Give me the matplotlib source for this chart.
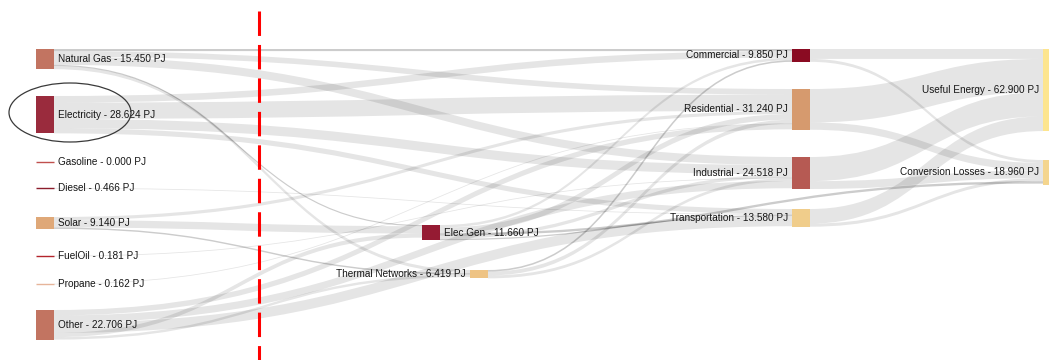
import matplotlib
matplotlib.use("Agg")
import matplotlib.pyplot as plt
from matplotlib.path import Path
from matplotlib.patches import PathPatch, Rectangle, Ellipse

# ---- data (PJ) ----
sources = ["Natural Gas", "Electricity", "Gasoline", "Diesel", "Solar",
           "FuelOil", "Propane", "Other"]
source_pj = [15.450, 28.624, 0.000, 0.466, 9.140, 0.181, 0.162, 22.706]

conversion = ["Elec Gen", "Thermal Networks"]
conversion_pj = [11.660, 6.419]

sectors = ["Commercial", "Residential", "Industrial", "Transportation"]
sector_pj = [9.850, 31.240, 24.518, 13.580]

outcomes = ["Useful Energy", "Conversion Losses"]
outcome_pj = [62.900, 18.960]

flow_from = [
    "Natural Gas", "Natural Gas", "Natural Gas", "Natural Gas", "Natural Gas",
    "Electricity", "Electricity", "Electricity", "Electricity",
    "Diesel",
    "Solar", "Solar", "Solar",
    "FuelOil",
    "Propane",
    "Other", "Other", "Other", "Other", "Other",
    "Elec Gen", "Elec Gen", "Elec Gen", "Elec Gen", "Elec Gen",
    "Thermal Networks", "Thermal Networks", "Thermal Networks",
    "Commercial", "Commercial",
    "Residential", "Residential",
    "Industrial", "Industrial",
    "Transportation", "Transportation",
]
flow_to = [
    "Commercial", "Residential", "Industrial", "Elec Gen", "Thermal Networks",
    "Commercial", "Residential", "Industrial", "Transportation",
    "Transportation",
    "Residential", "Elec Gen", "Thermal Networks",
    "Industrial",
    "Residential",
    "Residential", "Industrial", "Transportation", "Elec Gen", "Thermal Networks",
    "Commercial", "Residential", "Industrial", "Transportation", "Conversion Losses",
    "Commercial", "Residential", "Industrial",
    "Useful Energy", "Conversion Losses",
    "Useful Energy", "Conversion Losses",
    "Useful Energy", "Conversion Losses",
    "Useful Energy", "Conversion Losses",
]
flow_pj = [
    1.60, 4.30, 6.25, 0.90, 2.40,
    5.05, 12.50, 7.10, 3.974,
    0.466,
    2.44, 5.60, 1.10,
    0.181,
    0.162,
    4.20, 5.60, 7.80, 3.20, 1.906,
    2.00, 4.30, 2.60, 0.96, 1.80,
    1.20, 3.00, 2.219,
    7.60, 2.25,
    25.60, 5.64,
    18.50, 6.018,
    11.20, 2.38,
]

# ---- layout (pixels) ----
SCALE = 1.305          # px per PJ
NODE_W = 18
node_x, node_top = {}, {}
for name, top in zip(sources, [49, 96, 162, 188, 217, 256, 284, 310]):
    node_x[name], node_top[name] = 36, top
node_x["Elec Gen"], node_top["Elec Gen"] = 422, 225
node_x["Thermal Networks"], node_top["Thermal Networks"] = 470, 270
for name, top in zip(sectors, [49, 89, 157, 209]):
    node_x[name], node_top[name] = 792, top
for name, top in zip(outcomes, [49, 160]):
    node_x[name], node_top[name] = 1043, top

node_val = dict(zip(sources + conversion + sectors + outcomes,
                    source_pj + conversion_pj + sector_pj + outcome_pj))

node_color = {
    "Natural Gas": "#c27461", "Electricity": "#9a2b3d", "Gasoline": "#c0504d",
    "Diesel": "#8c1d2c", "Solar": "#dfa878", "FuelOil": "#b3242c",
    "Propane": "#e6b59a", "Other": "#c27461",
    "Elec Gen": "#951b33", "Thermal Networks": "#eec384",
    "Commercial": "#8a0b22", "Residential": "#d69a6e",
    "Industrial": "#b65a53", "Transportation": "#f0cd8b",
    "Useful Energy": "#fde58f", "Conversion Losses": "#f4d58e",
}

label_side = {n: "right" for n in sources}
label_side["Elec Gen"] = "right"
label_side["Thermal Networks"] = "left"
for n in sectors + outcomes:
    label_side[n] = "left"


def center(n):
    return node_top[n] + node_val[n] * SCALE / 2


fig = plt.figure(figsize=(10.49, 3.60), dpi=100)
ax = fig.add_axes([0, 0, 1, 1])
ax.set_xlim(0, 1049)
ax.set_ylim(360, 0)
ax.axis("off")

# stack links at each node, ordered by the position of the other end
idx = list(range(len(flow_pj)))
out_off, in_off = {}, {}
src_y0, tgt_y0 = {}, {}
for i in sorted(idx, key=lambda k: (flow_from[k], center(flow_to[k]))):
    s = flow_from[i]
    off = out_off.get(s, 0.0)
    src_y0[i] = node_top[s] + off
    out_off[s] = off + flow_pj[i] * SCALE
for i in sorted(idx, key=lambda k: (flow_to[k], center(flow_from[k]))):
    t = flow_to[i]
    off = in_off.get(t, 0.0)
    tgt_y0[i] = node_top[t] + off
    in_off[t] = off + flow_pj[i] * SCALE

for i in idx:
    s, t = flow_from[i], flow_to[i]
    w = flow_pj[i] * SCALE
    x0 = node_x[s] + NODE_W
    x1 = node_x[t]
    xm = (x0 + x1) / 2
    ya, yb = src_y0[i], tgt_y0[i]
    if w >= 2.4:
        verts = [(x0, ya), (xm, ya), (xm, yb), (x1, yb),
                 (x1, yb + w), (xm, yb + w), (xm, ya + w), (x0, ya + w),
                 (x0, ya)]
        codes = [Path.MOVETO, Path.CURVE4, Path.CURVE4, Path.CURVE4,
                 Path.LINETO, Path.CURVE4, Path.CURVE4, Path.CURVE4,
                 Path.CLOSEPOLY]
        ax.add_patch(PathPatch(Path(verts, codes), facecolor=(0, 0, 0, 0.10),
                               edgecolor="none", zorder=1))
    else:
        ya_c, yb_c = ya + w / 2, yb + w / 2
        verts = [(x0, ya_c), (xm, ya_c), (xm, yb_c), (x1, yb_c)]
        codes = [Path.MOVETO, Path.CURVE4, Path.CURVE4, Path.CURVE4]
        alpha = 0.20 if w > 0.8 else 0.10
        ax.add_patch(PathPatch(Path(verts, codes), facecolor="none",
                               edgecolor=(0, 0, 0, alpha),
                               linewidth=max(w, 0.8) * 0.72, zorder=1))

# nodes and labels
for n in node_val:
    h = node_val[n] * SCALE
    x, y = node_x[n], node_top[n]
    if h >= 1.5:
        ax.add_patch(Rectangle((x, y), NODE_W, h, facecolor=node_color[n],
                               edgecolor="none", zorder=3))
    else:
        ax.plot([x, x + NODE_W], [y, y], color=node_color[n], lw=1.0,
                solid_capstyle="butt", zorder=3)
    label = f"{n} - {node_val[n]:.3f} PJ"
    cy = y + h / 2
    if label_side[n] == "right":
        ax.text(x + NODE_W + 4, cy, label, ha="left", va="center",
                fontsize=7.2, family="Liberation Sans", color="#161616",
                zorder=4)
    else:
        ax.text(x - 4, cy, label, ha="right", va="center",
                fontsize=7.2, family="Liberation Sans", color="#161616",
                zorder=4)

# divider between supply and conversion
line, = ax.plot([259, 259], [11, 360], color="#ff0000", lw=2.2,
                solid_capstyle="butt", zorder=5)
line.set_dashes([8.0, 2.95])

# highlight around Electricity
ax.add_patch(Ellipse((70, 112.5), 122, 59, facecolor="none",
                     edgecolor="#3a3a3a", lw=0.9, zorder=6))

fig.savefig("out.png", dpi=100)
